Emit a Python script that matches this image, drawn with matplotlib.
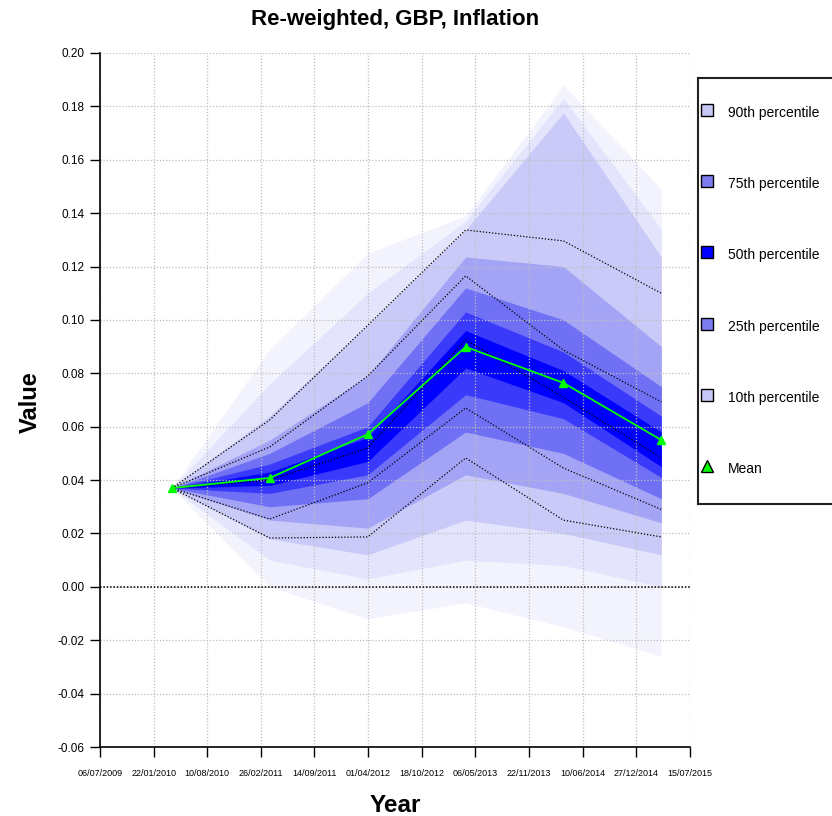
import matplotlib
matplotlib.use('Agg')
import matplotlib.pyplot as plt
import matplotlib.dates as mdates
import numpy as np
from datetime import date, timedelta

plt.rcParams['font.family'] = ['Liberation Sans', 'DejaVu Sans']
plt.rcParams['axes.unicode_minus'] = False

# forecast dates
dates = [date(2010, 3, 31), date(2011, 3, 31), date(2012, 3, 31),
         date(2013, 3, 31), date(2014, 3, 31), date(2015, 3, 31)]

# mean path
mean = [0.037, 0.0408, 0.0572, 0.0899, 0.0764, 0.055]

# percentile paths (dotted lines)
p90 = [0.037, 0.0625, 0.098, 0.1337, 0.1296, 0.110]
p75 = [0.037, 0.0524, 0.079, 0.1165, 0.0887, 0.0693]
p50 = [0.037, 0.040, 0.052, 0.0925, 0.071, 0.0483]
p25 = [0.037, 0.0254, 0.039, 0.067, 0.0445, 0.029]
p10 = [0.037, 0.0183, 0.0187, 0.0483, 0.025, 0.0187]

# fan quantiles
q01 = [0.037, 0.000, -0.012, -0.006, -0.015, -0.026]
q05 = [0.037, 0.010, 0.003, 0.010, 0.008, 0.000]
q10 = [0.037, 0.018, 0.012, 0.025, 0.020, 0.012]
q20 = [0.037, 0.025, 0.022, 0.042, 0.035, 0.024]
q30 = [0.037, 0.030, 0.033, 0.058, 0.050, 0.033]
q40 = [0.037, 0.035, 0.042, 0.072, 0.063, 0.041]
q45 = [0.037, 0.038, 0.047, 0.082, 0.069, 0.045]
q55 = [0.037, 0.043, 0.056, 0.096, 0.081, 0.058]
q60 = [0.037, 0.046, 0.060, 0.103, 0.088, 0.064]
q70 = [0.037, 0.050, 0.069, 0.112, 0.100, 0.075]
q80 = [0.037, 0.055, 0.079, 0.1236, 0.120, 0.090]
q90 = [0.037, 0.064, 0.098, 0.1337, 0.1775, 0.1236]
q95 = [0.037, 0.076, 0.110, 0.137, 0.183, 0.134]
q99 = [0.037, 0.089, 0.125, 0.139, 0.188, 0.149]

fan_pairs = [(q01, q99), (q05, q95), (q10, q90), (q20, q80),
             (q30, q70), (q40, q60), (q45, q55)]
fan_colors = ['#f3f3fe', '#e4e4fc', '#cacaf8', '#a4a4f6',
              '#7070f5', '#3a3afa', '#0000ff']

start = date(2009, 7, 6)
ticks = [start + timedelta(days=200 * i) for i in range(12)]

fig = plt.figure(figsize=(8.32, 8.16), dpi=100)
ax = fig.add_axes([100 / 832, 1 - 747 / 816, 590 / 832, 694 / 816])

x = mdates.date2num(dates)
for (lo, hi), c in zip(fan_pairs, fan_colors):
    ax.fill_between(x, lo, hi, color=c, lw=0, zorder=1)

for p in [p90, p75, p50, p25, p10]:
    ax.plot(x, p, color='black', ls=(0, (1, 1.5)), lw=0.9, zorder=3)

ax.axhline(0, color='black', ls=(0, (1, 1.2)), lw=1.1, zorder=3)
ax.plot(x, mean, color='#00ff00', lw=1.3, marker='^', ms=5.5, zorder=4)

ax.set_xlim(mdates.date2num(ticks[0]), mdates.date2num(ticks[-1]) + 1)
ax.set_ylim(-0.06, 0.20)
ax.set_xticks(mdates.date2num(ticks))
ax.set_xticklabels([t.strftime('%d/%m/%Y') for t in ticks], fontsize=6.5)
ax.set_yticks(np.arange(-0.06, 0.2001, 0.02))
ax.yaxis.set_major_formatter(plt.FormatStrFormatter('%.2f'))
ax.tick_params(axis='y', labelsize=8.5, length=7, width=1, pad=4)
ax.tick_params(axis='x', length=7, width=1, pad=9)
ax.grid(True, color='#bdbdbd', ls=(0, (1, 1.5)), lw=0.9)
ax.set_axisbelow(False)
for s in ['top', 'right']:
    ax.spines[s].set_visible(False)
for s in ['left', 'bottom']:
    ax.spines[s].set_linewidth(1.2)
    ax.spines[s].set_zorder(5)

fig.text(395 / 832, 1 - 19 / 816, 'Re-weighted, GBP, Inflation',
         fontsize=16, fontweight='bold', ha='center', va='center')
fig.text(395 / 832, 1 - 805 / 816, 'Year', fontsize=17.5, fontweight='bold',
         ha='center', va='center')
fig.text(30 / 832, 1 - 402 / 816, 'Value', fontsize=17, fontweight='bold',
         ha='center', va='center', rotation=90)

# legend box
lg = fig.add_axes([698 / 832, 1 - 504 / 816, 200 / 832, 426 / 816])
lg.set_xlim(0, 200)
lg.set_ylim(426, 0)
lg.set_xticks([])
lg.set_yticks([])
for s in lg.spines.values():
    s.set_linewidth(1.5)
    s.set_color('#202020')
labels = ['90th percentile', '75th percentile', '50th percentile',
          '25th percentile', '10th percentile', 'Mean']
swatches = ['#c8c8f6', '#7c7cf0', '#0000ff', '#7c7cf0', '#c8c8f6', '#00ff00']
for i, (lab, c) in enumerate(zip(labels, swatches)):
    yy = 35 + i * 71.2
    m = '^' if lab == 'Mean' else 's'
    lg.plot(9, yy - 3, marker=m, ms=8, mfc=c, mec='black', mew=1, ls='')
    lg.text(30, yy, lab, fontsize=10, va='center', ha='left')

fig.savefig('out.png', dpi=100)
